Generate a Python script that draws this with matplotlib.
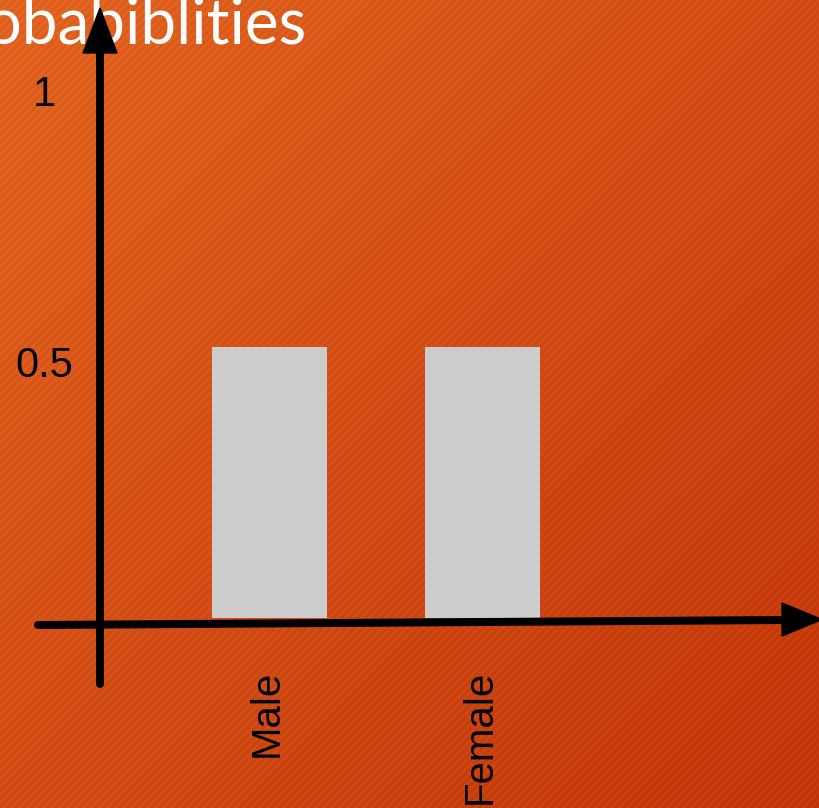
import numpy as np
import matplotlib.pyplot as plt
from matplotlib.patches import Polygon
from matplotlib.transforms import ScaledTranslation

# data
categories = ['Male', 'Female']
probs = [0.5, 0.5]
ytick_vals = [0.5, 1.0]
ytick_labels = ['0.5', '1']
title = 'Probabiblities'

W, H = 819, 808
fig = plt.figure(figsize=(W / 100, H / 100), dpi=100)

# orange diagonal gradient with fine stripes
bg = fig.add_axes([0, 0, 1, 1])
bg.set_zorder(-1)
yy, xx = np.mgrid[0:H, 0:W]
t = (xx / W + yy / H) / 2.0
c0 = np.array([226, 100, 32]) / 255.0
c1 = np.array([194, 54, 10]) / 255.0
img = c0[None, None, :] * (1 - t[..., None]) + c1[None, None, :] * t[..., None]
stripes = np.sin((xx + yy) * 2 * np.pi / 8.0)
img = img + (stripes[..., None] * 0.018)
img = np.clip(img, 0, 1)
bg.imshow(img, extent=[0, W, H, 0], aspect='auto', interpolation='bilinear')
bg.set_xlim(0, W)
bg.set_ylim(H, 0)
bg.axis('off')
bg.text(306 / W, 1 - 44 / H, title, transform=fig.transFigure, ha='right',
        va='baseline', fontsize=46, family='Lato', color='white')

# bar chart
ax = fig.add_axes([100 / W, 190 / H, 719 / W, 618 / H])
ax.patch.set_alpha(0)
x = np.arange(len(categories))
ax.bar(x, probs, width=0.54, color='#cccccc', zorder=2)
ax.set_xlim(-0.796, 2.58)
ax.set_ylim(0, 1.14)
for s in ax.spines.values():
    s.set_visible(False)

ax.set_yticks(ytick_vals)
ax.set_yticklabels(ytick_labels, fontsize=30, family='Liberation Sans', ha='center')
ax.tick_params(axis='y', length=0, pad=40)
shift = ScaledTranslation(0, -0.15, fig.dpi_scale_trans)
for lbl in ax.get_yticklabels():
    lbl.set_transform(lbl.get_transform() + shift)

ax.set_xticks(x)
ax.set_xticklabels(categories, fontsize=29, family='Liberation Sans', rotation=90, va='top')
ax.tick_params(axis='x', length=0, pad=37)
xshift = ScaledTranslation(-0.03, 0, fig.dpi_scale_trans)
for lbl in ax.get_xticklabels():
    lbl.set_transform(lbl.get_transform() + xshift)

# hand-drawn style axis arrows
ov = fig.add_axes([0, 0, 1, 1])
ov.set_zorder(5)
ov.patch.set_alpha(0)
ov.set_xlim(0, W)
ov.set_ylim(H, 0)
ov.axis('off')
lw = 8 * 72 / 100
ov.plot([100, 100], [684, 50], color='black', lw=lw, solid_capstyle='round')
ov.add_patch(Polygon([[83, 53], [117, 53], [100, 8]], closed=True, color='black'))
ov.plot([38, 785], [625, 620], color='black', lw=lw, solid_capstyle='round')
ov.add_patch(Polygon([[782, 603], [782, 636], [822, 619.5]], closed=True, color='black'))

fig.savefig('out.png', dpi=100)
